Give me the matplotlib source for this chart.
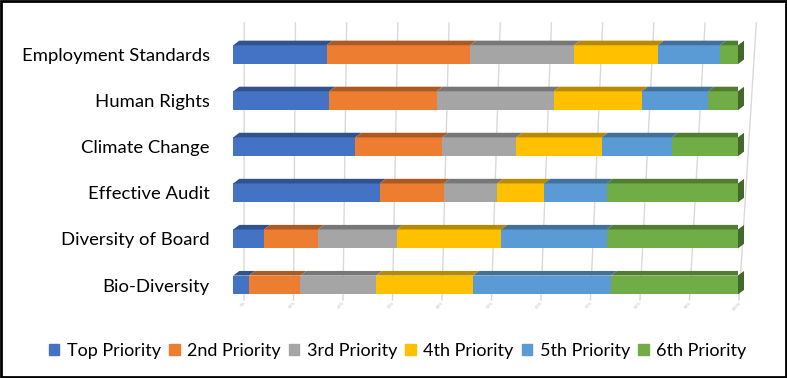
import matplotlib
matplotlib.use("Agg")
import matplotlib.pyplot as plt
from matplotlib.patches import Polygon, Rectangle
import matplotlib.colors as mcolors
import numpy as np

# data (share of respondents, %), listed bottom to top
categories = ["Bio-Diversity", "Diversity of Board", "Effective Audit",
              "Climate Change", "Human Rights", "Employment Standards"]
series = ["Top Priority", "2nd Priority", "3rd Priority",
          "4th Priority", "5th Priority", "6th Priority"]
top_priority = [3.1, 6.1, 29.0, 24.2, 19.0, 18.5]
second_priority = [10.2, 10.7, 12.7, 17.2, 21.3, 28.4]
third_priority = [15.0, 15.6, 10.6, 14.7, 23.2, 20.6]
fourth_priority = [19.2, 20.7, 9.3, 16.9, 17.4, 16.6]
fifth_priority = [27.3, 20.9, 12.4, 13.9, 13.2, 12.3]
sixth_priority = [25.2, 26.0, 26.0, 13.1, 5.9, 3.6]
tick_labels = ["0%", "10%", "20%", "30%", "40%", "50%",
               "60%", "70%", "80%", "90%", "100%"]

colors = ["#4472C4", "#ED7D31", "#A5A5A5", "#FFC000", "#5B9BD5", "#70AD47"]
values = [top_priority, second_priority, third_priority,
          fourth_priority, fifth_priority, sixth_priority]

plt.rcParams["font.family"] = ["Lato", "DejaVu Sans"]

fig = plt.figure(figsize=(7.87, 3.78), dpi=100)
ax = fig.add_axes([0.2964, 0.1851, 0.6413, 0.7677])
ax.set_xlim(0, 100)
ax.set_ylim(-0.5, 5.8)
for s in ax.spines.values():
    s.set_visible(False)


def shade(c, f):
    r, g, b = mcolors.to_rgb(c)
    return (r * f, g * f, b * f)


# back-wall gridlines (slight perspective fan) + tiny rotated tick labels
px = 5.047
for k, lab in enumerate(tick_labels):
    xb = (244 + 49.5 * k - 233.3) / px
    xt = (244.3 + 51.2 * k - 233.3) / px
    ax.plot([xb, xt], [-0.326, 5.69], color="#d9d9d9", lw=1, zorder=0,
            clip_on=False)
    ax.text(xb, -0.34, lab, rotation=45, ha="right", va="top", fontsize=3.2,
            color="#bfbfbf", rotation_mode="anchor")

h = 0.41
dx, dy = 1.2, 0.1
y = np.arange(len(categories))
for yi in y:
    left = 0.0
    for si in range(len(series)):
        w = values[si][yi]
        c = colors[si]
        ax.barh(yi, w, left=left, height=h, color=c, zorder=2)
        top = yi + h / 2
        ax.add_patch(Polygon([(left, top), (left + w, top),
                              (left + w + dx, top + dy), (left + dx, top + dy)],
                             closed=True, fc=shade(c, 0.72), ec="none",
                             zorder=2))
        left += w
    bot = yi - h / 2
    ax.add_patch(Polygon([(left, bot), (left, bot + h), (left + dx, bot + h + dy),
                          (left + dx, bot + dy)], closed=True,
                         fc=shade(colors[-1], 0.6), ec="none", zorder=2,
                         clip_on=False))

ax.set_yticks(y)
ax.set_yticklabels(categories, fontsize=13.3)
ax.tick_params(axis="y", length=0, pad=17)
ax.set_xticks([])

handles = [Rectangle((0, 0), 1, 1, color=c) for c in colors]
fig.legend(handles, series, loc="center", bbox_to_anchor=(0.505, 0.072),
           ncol=6, frameon=False, fontsize=13, handlelength=0.6,
           handleheight=0.6, handletextpad=0.4, columnspacing=0.45)

fig.patches.append(Rectangle((0.0015, 0.003), 0.997, 0.994,
                             transform=fig.transFigure, fill=False,
                             ec="black", lw=2))

fig.savefig("out.png", dpi=100)
